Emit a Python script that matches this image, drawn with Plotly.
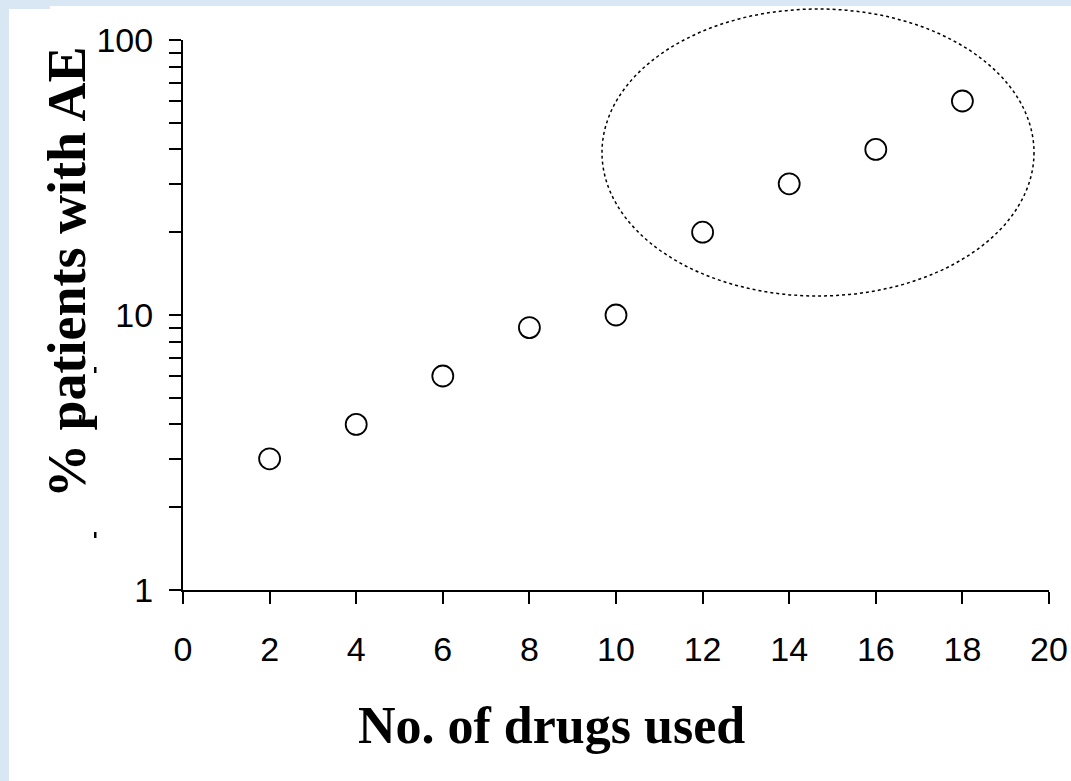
import plotly.graph_objects as go

# Data
drugs = [2, 4, 6, 8, 10, 12, 14, 16, 18]
pct_ae = [3, 4, 6, 9, 10, 20, 30, 40, 60]
x_ticks = [0, 2, 4, 6, 8, 10, 12, 14, 16, 18, 20]
y_ticks = [1, 10, 100]
y_minor = [2, 3, 4, 5, 6, 7, 8, 9, 20, 30, 40, 50, 60, 70, 80, 90]

W, H = 1071, 781
L, R, T, B = 183, 22, 40, 191
pw, ph = W - L - R, H - T - B
BLUE = "#d9e6f4"

def px(xp):
    return (xp - L) / pw

def py(yp):
    return (H - B - yp) / ph

fig = go.Figure()
fig.add_trace(go.Scatter(
    x=drugs, y=pct_ae, mode="markers",
    marker=dict(symbol="circle", size=21, color="white",
                line=dict(color="black", width=1.8)),
    cliponaxis=False, showlegend=False, hoverinfo="skip",
))

shapes = [
    # light-blue slide border (left and top strips)
    dict(type="rect", xref="paper", yref="paper", layer="below",
         x0=px(-2), x1=px(9), y0=py(H + 2), y1=py(-2),
         fillcolor=BLUE, line=dict(width=0)),
    dict(type="rect", xref="paper", yref="paper", layer="below",
         x0=px(-2), x1=px(W + 2), y0=py(6), y1=py(-2),
         fillcolor=BLUE, line=dict(width=0)),
    dict(type="rect", xref="paper", yref="paper", layer="below",
         x0=px(8), x1=px(50), y0=py(9), y1=py(5),
         fillcolor=BLUE, line=dict(width=0)),
    # keep the right page edge white
    dict(type="rect", xref="paper", yref="paper",
         x0=px(1060), x1=px(W + 4), y0=py(622), y1=py(6),
         fillcolor="white", line=dict(width=0)),
    dict(type="rect", xref="paper", yref="paper",
         x0=px(1060), x1=px(W + 4), y0=py(H + 4), y1=py(666),
         fillcolor="white", line=dict(width=0)),
    # dotted ellipse around the high-count group
    dict(type="circle", xref="paper", yref="paper",
         x0=px(602), x1=px(1034), y0=py(296), y1=py(9),
         line=dict(color="black", width=1.5, dash="dot")),
]
# small stray marks left of the axis
for (mx, my) in [(95, 370), (95, 535), (80, 418)]:
    shapes.append(dict(type="rect", xref="paper", yref="paper",
                       x0=px(mx - 1), x1=px(mx + 1.5), y0=py(my + 3), y1=py(my - 3),
                       fillcolor="black", line=dict(width=0)))

fig.update_layout(
    width=W, height=H,
    margin=dict(l=L, r=R, t=T, b=B, autoexpand=False),
    paper_bgcolor="white",
    plot_bgcolor="white",
    showlegend=False,
    shapes=shapes,
    annotations=[
        dict(text="<b>% patients with AE</b>", xref="paper", yref="paper",
             x=px(67), y=py(272), xanchor="center", yanchor="middle",
             textangle=-90, showarrow=False,
             font=dict(family="Liberation Serif", size=54, color="black")),
        dict(text="<b>No. of drugs used</b>", xref="paper", yref="paper",
             x=px(551), y=py(725), xanchor="center", yanchor="middle",
             showarrow=False,
             font=dict(family="Liberation Serif", size=52, color="black")),
    ],
)
fig.update_xaxes(
    range=[0, 20], tickmode="array", tickvals=x_ticks, automargin=False,
    showgrid=False, zeroline=False, showline=True, linecolor="black", linewidth=2,
    ticks="outside", ticklen=12, tickwidth=2, tickcolor="black",
    ticklabelstandoff=16,
    tickfont=dict(family="Liberation Sans", size=34, color="black"),
)
fig.update_yaxes(
    type="log", range=[0, 2], tickmode="array", tickvals=y_ticks, automargin=False,
    ticktext=[str(v) for v in y_ticks],
    showgrid=False, zeroline=False, showline=True, linecolor="black", linewidth=2,
    ticks="outside", ticklen=12, tickwidth=2, tickcolor="black",
    ticklabelstandoff=9,
    minor=dict(tickmode="array", tickvals=y_minor, ticks="outside",
               ticklen=12, tickwidth=2, tickcolor="black", showgrid=False),
    tickfont=dict(family="Liberation Sans", size=34, color="black"),
)

fig.write_html(
    "out.html", config={"displayModeBar": False},
    post_script=("document.documentElement.style.overflow='hidden';"
                 "document.body.style.margin='0px';"
                 "document.body.style.overflow='hidden';"),
)
